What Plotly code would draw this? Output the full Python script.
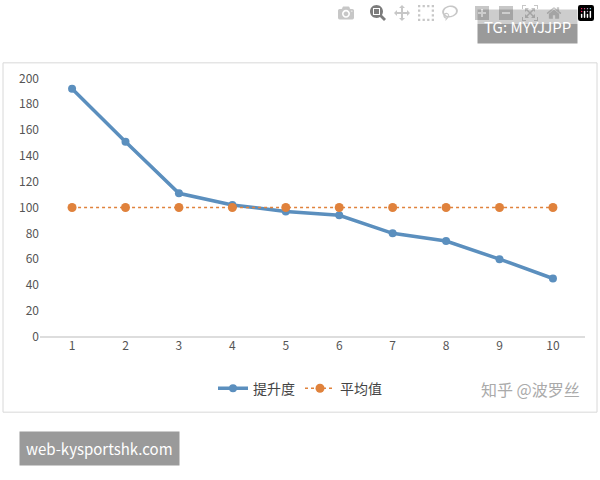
import plotly.graph_objects as go

x = [1, 2, 3, 4, 5, 6, 7, 8, 9, 10]
lift = [192, 151, 111, 102, 97, 94, 80, 74, 60, 45]
avg = [100] * 10
yticks = [0, 20, 40, 60, 80, 100, 120, 140, 160, 180, 200]

fig = go.Figure()
fig.add_trace(go.Scatter(x=x, y=lift, name="提升度", mode="lines+markers",
                         line=dict(color="#5B8FBE", width=3.5),
                         marker=dict(size=8, color="#5B8FBE")))
fig.add_trace(go.Scatter(x=x, y=avg, name="平均值", mode="lines+markers",
                         line=dict(color="#E0823C", width=1.5, dash="dot"),
                         marker=dict(size=9, color="#E0823C")))

fig.update_layout(
    width=600, height=480, margin=dict(l=0, r=0, t=0, b=0), autosize=False,
    paper_bgcolor="white", plot_bgcolor="white",
    font=dict(family="Noto Sans CJK SC", size=12, color="#555"),
    xaxis=dict(domain=[40/600, 585/600], range=[0.4, 10.6], tickvals=x,
               showgrid=False, zeroline=False, showline=False, ticks=""),
    yaxis=dict(domain=[1-341/480, 1-70/480], range=[0, 206], tickvals=yticks,
               showgrid=False, zeroline=True, zerolinecolor="#ddd", ticks=""),
    legend=dict(orientation="h", x=0.5, xanchor="center", y=1-394/480, yanchor="middle",
                font=dict(size=14, color="#444")),
    shapes=[dict(type="rect", xref="paper", yref="paper", x0=3/600, x1=597/600,
                 y0=1-418/480, y1=1-62/480, line=dict(color="#d8d8d8", width=1))],
    annotations=[
        dict(text="TG: MYYJJPP", xref="paper", yref="paper", x=527/600, y=1-25/480,
             xanchor="center", yanchor="middle",
             showarrow=False, font=dict(size=15, color="white"), bgcolor="#9a9a9a",
             borderpad=6),
        dict(text="web-kysportshk.com", xref="paper", yref="paper", x=99/600, y=1-455/480,
             xanchor="center", yanchor="middle",
             showarrow=False, font=dict(size=15, color="white"), bgcolor="#9a9a9a",
             borderpad=6),
        dict(text="知乎 @波罗丝", xref="paper", yref="paper", x=530/600, y=1-394/480,
             xanchor="center", yanchor="middle",
             showarrow=False, font=dict(size=16, color="#aaa")),
    ],
)
fig.write_html("out.html", config={"responsive": False},
               post_script="document.body.style.margin='0';document.body.style.overflow='hidden';")
